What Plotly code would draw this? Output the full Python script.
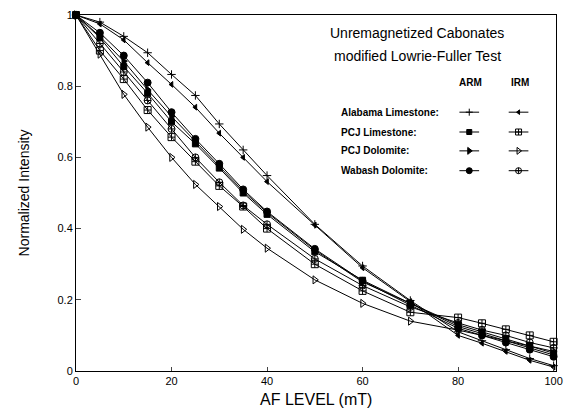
import plotly.graph_objects as go

af_level = [0, 5, 10, 15, 20, 25, 30, 35, 40, 50, 60, 70, 80, 85, 90, 95, 100]

alabama_arm = [1, 0.98, 0.94, 0.894, 0.833, 0.774, 0.694, 0.621, 0.549, 0.412, 0.295, 0.198, 0.11, 0.085, 0.06, 0.035, 0.015]
alabama_irm = [1, 0.975, 0.93, 0.866, 0.805, 0.741, 0.668, 0.60, 0.532, 0.41, 0.29, 0.195, 0.10, 0.078, 0.055, 0.03, 0.011]
pcj_lime_arm = [1, 0.936, 0.855, 0.78, 0.70, 0.638, 0.57, 0.50, 0.44, 0.335, 0.255, 0.19, 0.13, 0.11, 0.09, 0.07, 0.05]
pcj_lime_irm = [1, 0.90, 0.82, 0.733, 0.657, 0.588, 0.52, 0.462, 0.40, 0.30, 0.225, 0.165, 0.15, 0.134, 0.117, 0.10, 0.082]
pcj_dolo_arm = [1, 0.94, 0.87, 0.79, 0.715, 0.645, 0.575, 0.505, 0.445, 0.34, 0.25, 0.19, 0.125, 0.105, 0.085, 0.065, 0.045]
pcj_dolo_irm = [1, 0.89, 0.777, 0.685, 0.60, 0.524, 0.462, 0.398, 0.345, 0.256, 0.19, 0.14, 0.115, 0.10, 0.085, 0.07, 0.055]
wabash_arm = [1, 0.95, 0.886, 0.81, 0.727, 0.652, 0.582, 0.51, 0.448, 0.343, 0.253, 0.185, 0.12, 0.10, 0.08, 0.06, 0.04]
wabash_irm = [1, 0.92, 0.84, 0.76, 0.68, 0.60, 0.53, 0.465, 0.412, 0.315, 0.24, 0.18, 0.135, 0.115, 0.10, 0.08, 0.065]

sample_names = ["Alabama Limestone:", "PCJ Limestone:", "PCJ Dolomite:", "Wabash Dolomite:"]
x_ticks = [0, 20, 40, 60, 80, 100]
y_ticks = [0, 0.2, 0.4, 0.6, 0.8, 1]
y_tick_text = ["0", "0.2", "0.4", "0.6", "0.8", "1"]

series = [
    (alabama_arm, "cross-thin", 6, 0),
    (alabama_irm, "triangle-left", 5, 0),
    (pcj_lime_arm, "square", 6, 1),
    (pcj_lime_irm, "square-cross-open", 7, 1),
    (pcj_dolo_arm, "triangle-right", 7, 2),
    (pcj_dolo_irm, "triangle-right-open", 7, 2),
    (wabash_arm, "circle", 7, 3),
    (wabash_irm, "circle-cross-open", 7, 3),
]

fig = go.Figure()
for vals, sym, size, _ in series:
    fig.add_trace(go.Scatter(
        x=af_level, y=vals, mode="lines+markers",
        line=dict(color="black", width=1),
        marker=dict(symbol=sym, size=size, color="black",
                    line=dict(color="black", width=1)),
        cliponaxis=False, showlegend=False))

# legend samples on an overlay axis measured in pixels
row_y = [110, 130, 149, 169]
for i, (vals, sym, size, row) in enumerate(series):
    cx = 475 if i % 2 == 0 else 525
    fig.add_trace(go.Scatter(
        x=[cx - 10, cx, cx + 10], y=[row_y[row]] * 3, mode="lines",
        line=dict(color="black", width=1), xaxis="x2", yaxis="y2",
        showlegend=False, hoverinfo="skip"))
    fig.add_trace(go.Scatter(
        x=[cx], y=[row_y[row]], mode="markers",
        marker=dict(symbol=sym, size=size - 1, color="black",
                    line=dict(color="black", width=1)),
        xaxis="x2", yaxis="y2", showlegend=False, hoverinfo="skip",
        cliponaxis=False))

font_family = "Liberation Sans, Arial, sans-serif"
annotations = [
    dict(x=422, y=30, text="Unremagnetized Cabonates", font=dict(size=14)),
    dict(x=422, y=53, text="modified Lowrie-Fuller Test", font=dict(size=14)),
    dict(x=476, y=80, text="<b>ARM</b>", font=dict(size=10)),
    dict(x=526, y=80, text="<b>IRM</b>", font=dict(size=10)),
]
for name, ry in zip(sample_names, row_y):
    annotations.append(dict(x=343, y=ry, text="<b>" + name + "</b>",
                            font=dict(size=10), xanchor="left"))
for a in annotations:
    a.update(xref="x2", yref="y2", showarrow=False)
    a.setdefault("xanchor", "center")
    a["font"]["family"] = font_family
    a["font"]["color"] = "black"

annotations.append(dict(x=0.5, y=-0.081, xref="paper", yref="paper",
                        text="AF LEVEL (mT)", showarrow=False,
                        xanchor="center", yanchor="middle",
                        font=dict(size=16, family=font_family, color="black")))

fig.update_layout(
    width=572, height=411,
    margin=dict(l=76, r=9, t=12, b=40),
    paper_bgcolor="white", plot_bgcolor="white",
    font=dict(family=font_family, color="black"),
    annotations=annotations,
    xaxis=dict(range=[0, 100.5], tickvals=x_ticks, ticks="inside", ticklen=4,
               showgrid=False, zeroline=False, showline=True, mirror=True,
               linecolor="black", linewidth=1,
               tickfont=dict(size=11)),
    yaxis=dict(range=[0, 1], tickvals=y_ticks, ticktext=y_tick_text,
               ticks="inside", ticklen=5,
               showgrid=False, zeroline=False, showline=True, mirror=True,
               linecolor="black", linewidth=1,
               tickfont=dict(size=11),
               title=dict(text="Normalized Intensity", font=dict(size=14), standoff=24)),
    xaxis2=dict(range=[76, 563], overlaying="x", visible=False, fixedrange=True),
    yaxis2=dict(range=[371, 12], overlaying="y", visible=False, fixedrange=True),
)

fig.write_html("out.html", config={"displayModeBar": False},
               post_script="document.body.style.margin='0';document.body.style.overflow='hidden';")
